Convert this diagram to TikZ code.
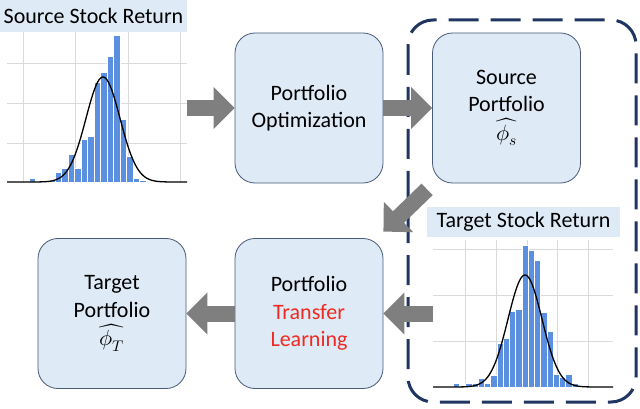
\documentclass[tikz,border=0pt]{standalone}
\usepackage{fontspec}
\usepackage{unicode-math}
\setmainfont{Carlito}
\setmathfont{Latin Modern Math}
\usetikzlibrary{arrows.meta,calc}
\definecolor{pfPanel}{HTML}{DEEAF6}
\definecolor{pfEdge}{HTML}{4A5B78}
\definecolor{pfNavy}{HTML}{1F3562}
\definecolor{pfGray}{HTML}{7F7F7F}
\definecolor{pfBar}{HTML}{5B8FE0}
\definecolor{pfGrid}{HTML}{DADADA}
\definecolor{pfRed}{HTML}{EE2A22}
\definecolor{pfTag}{HTML}{DEEBF7}
\begin{document}
\begin{tikzpicture}[x=1pt,y=-1pt,>=Latex,line join=round]
\useasboundingbox[fill=white] (0,0) rectangle (640,409);
\tikzset{box/.style={draw=pfEdge,fill=pfPanel,line width=0.8pt,rounded corners=20pt,minimum width=148pt,minimum height=150pt,align=center,font=\fontsize{22}{27.5}\selectfont},fat/.style={draw=pfGray,line width=16pt,-{Triangle[width=41pt,length=21pt]}},gridline/.style={draw=pfGrid,line width=0.6pt},bar/.style={fill=pfBar,draw=white,line width=0.4pt},curve/.style={draw=black,line width=1.3pt,smooth,samples=120},tag/.style={fill=pfTag,inner sep=0pt,font=\fontsize{22}{26}\selectfont},chart/.style={inner sep=0pt,minimum width=180pt}}
\draw[draw=pfNavy,line width=3pt,dash pattern=on 30pt off 12pt,rounded corners=25pt] (408,20) rectangle (636,402);
\node[tag,minimum width=187pt,minimum height=32pt] (srctag) at (93.5,16) {Source Stock Return};
\node[chart,minimum height=150pt] (srcchart) at (97,107) {};
\foreach \gx in {23,75,128,180} \draw[gridline] (\gx,32) -- (\gx,182);
\foreach \gy in {63,103,143} \draw[gridline] (7,\gy) -- (187,\gy);
\foreach \h [count=\i from 0] in {4,0,0,1.7,10,14,28,14,43,46,100,110,126,147,63,26,4,2} \path[bar] ({29+6.5*\i},182) rectangle ++(6.5,-\h);
\draw[curve,domain=7:187] plot (\x,{182-105*exp(-(\x-103)*(\x-103)/578)});
\node[tag,minimum width=193pt,minimum height=30pt] (tgttag) at (523.5,222) {Target Stock Return};
\node[chart,minimum height=147pt] (tgtchart) at (523,313.5) {};
\foreach \gx in {465,496,527,557,588} \draw[gridline] (\gx,240) -- (\gx,387);
\foreach \gy in {249,295,341} \draw[gridline] (433,\gy) -- (613,\gy);
\foreach \h [count=\i from 0] in {4.3,0,4.3,4.3,9,4.3,12,44,49,76,78,142,137,127,75,56,12.7,10,12.7,4} \path[bar] ({453+6.25*\i},387) rectangle ++(6.25,-\h);
\draw[curve,domain=433:613] plot (\x,{387-112*exp(-(\x-525)*(\x-525)/578)});
\node[box] (optbox) at (309,108) {Portfolio\\Optimization};
\node[box] (srcport) at (506.5,108) {Source\\Portfolio\\[1pt]$\widehat{\phi_s}$};
\node[box] (xfer) at (309,313.5) {Portfolio\\\textcolor{pfRed}{Transfer}\\\textcolor{pfRed}{Learning}};
\node[box] (tgtport) at (112,313.5) {Target\\Portfolio\\[1pt]$\widehat{\phi_T}$};
\draw[fat] (srcchart.east |- optbox.west) -- (optbox.west);
\draw[fat] (optbox) -- (srcport);
\draw[fat] ($(srcport.south west)+(-5,6)$) -- ($(xfer.north east)+(0,-6.5)$);
\draw[fat] (tgtchart.west |- xfer.east) -- (xfer.east);
\draw[fat] (xfer) -- (tgtport);
\end{tikzpicture}
\end{document}
